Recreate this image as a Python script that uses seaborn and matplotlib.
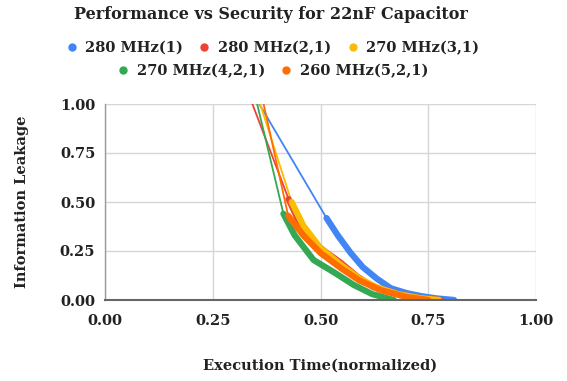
import matplotlib
matplotlib.use("Agg")
import matplotlib.pyplot as plt
import seaborn as sns
import pandas as pd
from matplotlib.lines import Line2D

# ---- data ----
series_names = ["280 MHz(1)", "280 MHz(2,1)", "270 MHz(3,1)", "270 MHz(4,2,1)", "260 MHz(5,2,1)"]
colors = ["#4285F4", "#EA4335", "#FBBC04", "#34A853", "#FF6D01"]

x_280_1 = [0.358, 0.514, 0.54, 0.57, 0.598, 0.63, 0.663, 0.70, 0.733, 0.77, 0.81]
y_280_1 = [1.0, 0.418, 0.33, 0.24, 0.168, 0.11, 0.06, 0.035, 0.02, 0.008, 0.0]

x_280_21 = [0.342, 0.426, 0.45, 0.477, 0.512, 0.547, 0.585, 0.623, 0.686, 0.73, 0.78]
y_280_21 = [1.0, 0.515, 0.40, 0.306, 0.245, 0.19, 0.12, 0.066, 0.026, 0.01, 0.0]

x_270_31 = [0.36, 0.433, 0.46, 0.50, 0.547, 0.59, 0.63, 0.68, 0.73, 0.775]
y_270_31 = [1.0, 0.50, 0.38, 0.265, 0.18, 0.11, 0.065, 0.03, 0.01, 0.0]

x_270_421 = [0.353, 0.414, 0.44, 0.484, 0.53, 0.577, 0.62, 0.67]
y_270_421 = [1.0, 0.44, 0.33, 0.204, 0.143, 0.077, 0.03, 0.0]

x_260_521 = [0.368, 0.425, 0.46, 0.50, 0.547, 0.59, 0.64, 0.70, 0.75]
y_260_521 = [1.0, 0.43, 0.33, 0.24, 0.163, 0.10, 0.05, 0.015, 0.0]

x_ticks = [0.0, 0.25, 0.5, 0.75, 1.0]
y_ticks = [0.0, 0.25, 0.5, 0.75, 1.0]

xs = [x_280_1, x_280_21, x_270_31, x_270_421, x_260_521]
ys = [y_280_1, y_280_21, y_270_31, y_270_421, y_260_521]

rows = []
for name, xv, yv in zip(series_names, xs, ys):
    for i, (a, b) in enumerate(zip(xv, yv)):
        rows.append({"series": name, "x": a, "y": b, "idx": i})
df = pd.DataFrame(rows)

sns.set_theme(style="white")
serif = "DejaVu Serif"
plt.rcParams["font.family"] = [serif]

fig = plt.figure(figsize=(5.67, 3.81), dpi=100)
ax = fig.add_axes([105/567, 1 - 300/381, (536-105)/567, (300-104)/381])

palette = dict(zip(series_names, colors))
# thin connecting part (all points)
sns.lineplot(data=df, x="x", y="y", hue="series", palette=palette, sort=False,
             estimator=None, linewidth=1.3, legend=False, ax=ax)
# thick dense part
sns.lineplot(data=df[df["idx"] > 0], x="x", y="y", hue="series", palette=palette,
             sort=False, estimator=None, linewidth=4.5, legend=False, ax=ax)

ax.set_xlim(0, 1)
ax.set_ylim(0, 1)
ax.set_xticks(x_ticks)
ax.set_yticks(y_ticks)
ax.set_xticklabels([f"{v:.2f}" for v in x_ticks], fontweight="bold", fontsize=10.5, color="#222222")
ax.set_yticklabels([f"{v:.2f}" for v in y_ticks], fontweight="bold", fontsize=10.5, color="#222222")
ax.tick_params(axis="both", length=0, pad=7)
ax.tick_params(axis="x", pad=10)
ax.grid(True, color="#d6d6d6", linewidth=1)
ax.set_axisbelow(True)
for s in ["top", "right"]:
    ax.spines[s].set_visible(False)
ax.spines["left"].set_color("#9a9a9a")
ax.spines["left"].set_linewidth(1)
ax.spines["bottom"].set_color("#666666")
ax.spines["bottom"].set_linewidth(1.5)

ax.set_xlabel("Execution Time(normalized)", fontweight="bold", fontsize=10.5, labelpad=22, color="#222222")
ax.set_ylabel("Information Leakage", fontweight="bold", fontsize=10.5, labelpad=22, color="#222222")

fig.text(0.478, 0.963, "Performance vs Security for 22nF Capacitor", ha="center", va="center",
         fontweight="bold", fontsize=11.5, color="#222222")

def handle(c):
    return Line2D([], [], marker="o", linestyle="none", markersize=5, markerfacecolor=c, markeredgecolor=c)

leg_kw = dict(loc="center", frameon=False, handletextpad=0.65, handlelength=0.6,
              columnspacing=1.15, borderpad=0.0,
              prop={"weight": "bold", "size": 10.5, "family": serif})
leg1 = fig.legend([handle(c) for c in colors[:3]], series_names[:3],
                  bbox_to_anchor=(0.482, 0.875), ncol=3, **leg_kw)
leg2 = fig.legend([handle(c) for c in colors[3:]], series_names[3:],
                  bbox_to_anchor=(0.482, 0.814), ncol=2, **leg_kw)
for lg in (leg1, leg2):
    for t in lg.get_texts():
        t.set_color("#222222")

fig.savefig("out.png", dpi=100)
